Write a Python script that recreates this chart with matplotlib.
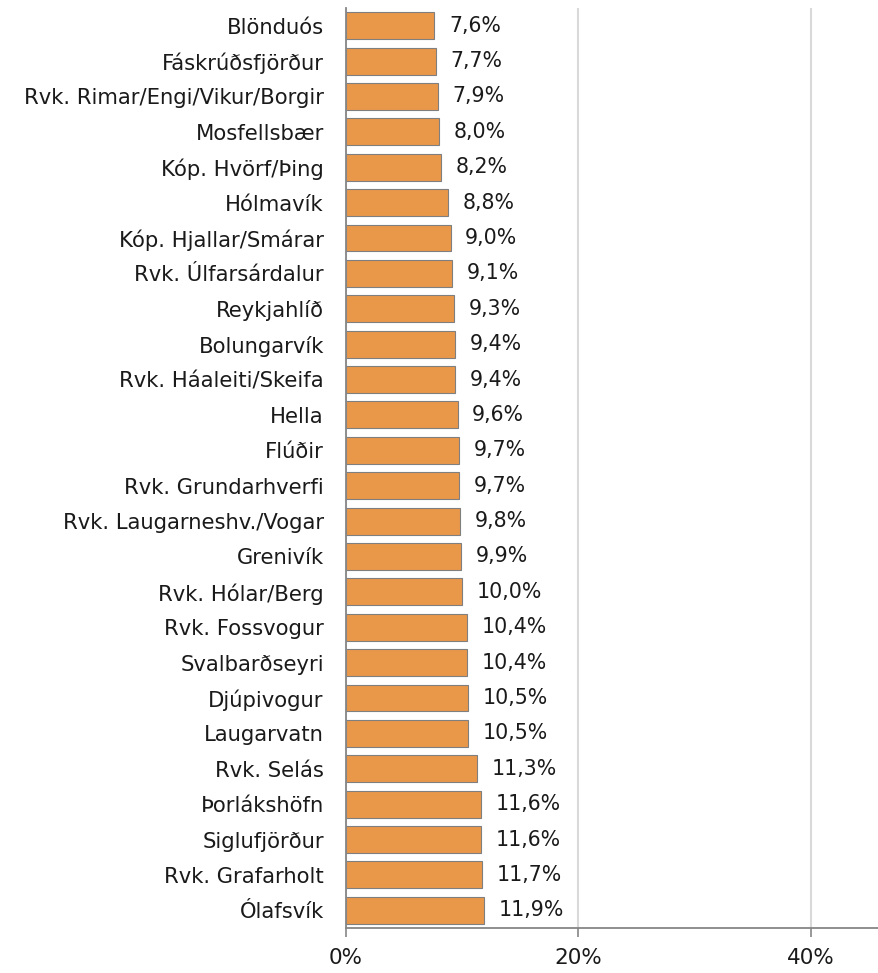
import numpy as np
import matplotlib
matplotlib.use("Agg")
import matplotlib.pyplot as plt

plt.rcParams['font.family'] = ['DejaVu Sans']

places = ['Blönduós', 'Fáskrúðsfjörður', 'Rvk. Rimar/Engi/Vikur/Borgir', 'Mosfellsbær',
          'Kóp. Hvörf/Þing', 'Hólmavík', 'Kóp. Hjallar/Smárar', 'Rvk. Úlfarsárdalur',
          'Reykjahlíð', 'Bolungarvík', 'Rvk. Háaleiti/Skeifa', 'Hella', 'Flúðir',
          'Rvk. Grundarhverfi', 'Rvk. Laugarneshv./Vogar', 'Grenivík', 'Rvk. Hólar/Berg',
          'Rvk. Fossvogur', 'Svalbarðseyri', 'Djúpivogur', 'Laugarvatn', 'Rvk. Selás',
          'Þorlákshöfn', 'Siglufjörður', 'Rvk. Grafarholt', 'Ólafsvík']
share = [7.6, 7.7, 7.9, 8.0, 8.2, 8.8, 9.0, 9.1, 9.3, 9.4, 9.4, 9.6, 9.7, 9.7, 9.8,
         9.9, 10.0, 10.4, 10.4, 10.5, 10.5, 11.3, 11.6, 11.6, 11.7, 11.9]
xticks = [0, 20, 40]

fig = plt.figure(figsize=(8.79, 9.73), dpi=100)
ax = fig.add_axes([346 / 879, 1 - 928 / 973, 1 - 346 / 879, 920 / 973])

y = np.arange(len(places))
ax.barh(y, share, height=0.76, color='#E9984A', edgecolor='#7F7F7F', linewidth=0.8, zorder=3)

# value labels just past the bar ends
for yi, v in zip(y, share):
    ax.annotate(f"{v:.1f}".replace('.', ',') + '%', (v, yi), xytext=(10.5, 0),
                textcoords='offset points', va='center', ha='left', fontsize=14.8,
                color='#1a1a1a')

ax.set_ylim(len(places) - 0.5, -0.5)
ax.set_xlim(0, 533 / 11.625)
ax.set_yticks(y)
ax.set_yticklabels(places, fontsize=15.2, color='#1a1a1a')
ax.set_xticks(xticks)
ax.set_xticklabels([f"{t}%" for t in xticks], fontsize=15.5, color='#1a1a1a')

ax.xaxis.grid(True, color='#D9D9D9', linewidth=1.5, zorder=0)
ax.tick_params(axis='y', length=0, pad=16)
ax.tick_params(axis='x', length=6.5, width=1.2, color='#868686', pad=8)

for s in ['top', 'right']:
    ax.spines[s].set_visible(False)
for s in ['left', 'bottom']:
    ax.spines[s].set_color('#868686')
    ax.spines[s].set_linewidth(1.3)
    ax.spines[s].set_zorder(4)

fig.savefig('out.png', dpi=100)
